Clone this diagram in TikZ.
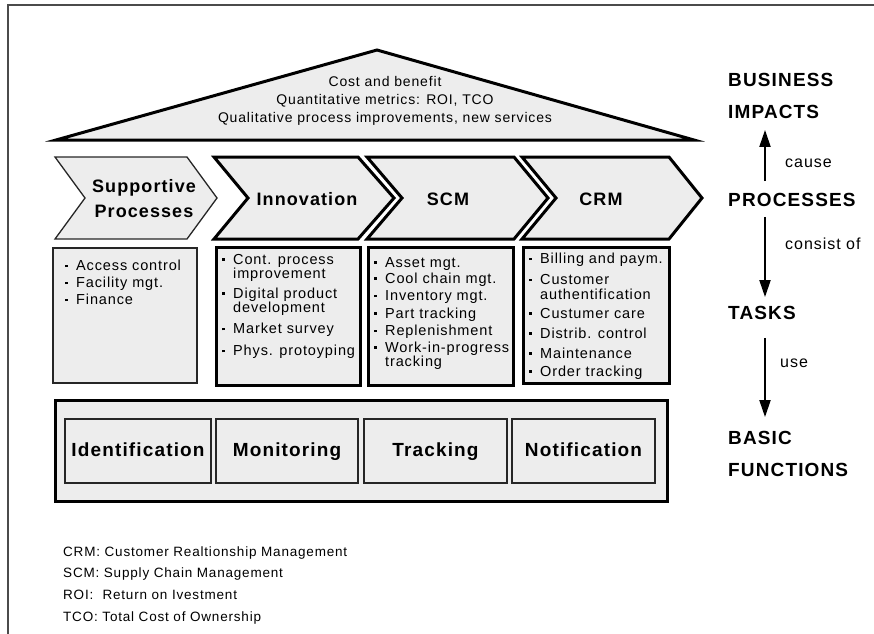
\documentclass[tikz,border=0pt]{standalone}
\usepackage{fontspec}
\setmainfont{Liberation Sans}[LetterSpace=6]
\usetikzlibrary{arrows.meta, positioning, calc}
\definecolor{shadegray}{RGB}{237,237,237}
\definecolor{framegray}{RGB}{75,75,75}
\newcommand{\blt}{\makebox[11pt][l]{\raisebox{3.5pt}{\rule{2.4pt}{2.4pt}}}}
\newcommand{\cnt}{\hspace*{11pt}}

\begin{document}
\begin{tikzpicture}[x=1pt, y=-1pt,
  thickbox/.style={draw=black, line width=3pt, fill=shadegray, inner sep=0pt, outer sep=0pt},
  thinbox/.style={draw=black!85, line width=1.3pt, fill=shadegray, inner sep=0pt, outer sep=0pt},
  chevlabel/.style={font=\fontsize{18}{25}\selectfont\bfseries, align=center, inner sep=0pt},
  funclabel/.style={font=\fontsize{19}{22}\selectfont\bfseries, inner sep=0pt, text height=14pt, text depth=4pt},
  levellabel/.style={font=\fontsize{19}{22}\selectfont\bfseries, anchor=west, inner sep=0pt},
  relabel/.style={font=\fontsize{16}{18}\selectfont, anchor=west, inner sep=0pt},
  itemtext/.style={font=\fontsize{14.5}{14.5}\selectfont, align=left, anchor=north west, inner sep=0pt},
  legendtext/.style={font=\fontsize{13.5}{15}\selectfont, anchor=west, inner sep=0pt},
  flowarrow/.style={-{Triangle[width=11pt,length=17pt]}, line width=2pt}
]
  \useasboundingbox (0,0) rectangle (874,633);
  % frame
  \draw[framegray, line width=2pt] (8,640) -- (8,5) -- (880,5);

  % roof
  \draw[thickbox, line join=miter] (56,140) -- (377,50) -- (694,140) -- cycle;
  \node[font=\fontsize{14}{18}\selectfont, align=center, inner sep=0pt] (roof) at (385,101) {
    Cost and benefit\\Quantitative metrics: ROI, TCO\\Qualitative process improvements, new services
  };

  % processes
  \draw[thinbox] (55,157) -- (187,157) -- (217,198) -- (187,239) -- (55,239) -- (85,198) -- cycle;
  \node[chevlabel] (supproc) at (144,199) {Supportive\\Processes};

  \draw[thickbox, line join=miter] (214,157) -- (358,157) -- (394,198) -- (358,239) -- (214,239) -- (248,198) -- cycle;
  \node[chevlabel] (innoproc) at (307,199) {Innovation};

  \draw[thickbox, line join=miter] (367,157) -- (514,157) -- (548,198) -- (514,239) -- (367,239) -- (402,198) -- cycle;
  \node[chevlabel] (scmproc) at (448,199) {SCM};

  \draw[thickbox, line join=miter] (522,157) -- (669,157) -- (702,198) -- (669,239) -- (522,239) -- (556,198) -- cycle;
  \node[chevlabel] (crmproc) at (601,199) {CRM};

  % tasks
  \node[thinbox, minimum width=144pt, minimum height=135pt] (suptask) at (125,315.5) {};
  \node[itemtext] (supitems) at ([xshift=12pt, yshift=-12pt]suptask.north west) {
    \blt Access control\\[2.5pt]
    \blt Facility mgt.\\[2.5pt]
    \blt Finance
  };

  \node[thickbox, minimum width=144pt, minimum height=138pt] (innotask) at (288,316) {};
  \node[itemtext] (innoitems) at ([xshift=6pt, yshift=-7pt]innotask.north west) {
    \blt Cont. process\\
    \cnt improvement\\[5pt]
    \blt Digital product\\
    \cnt development\\[6.5pt]
    \blt Market survey\\[7.5pt]
    \blt Phys. protoyping
  };

  \node[thickbox, minimum width=145pt, minimum height=138pt] (scmtask) at (440.5,316) {};
  \node[itemtext] (scmitems) at ([xshift=6pt, yshift=-10pt]scmtask.north west) {
    \blt Asset mgt.\\[1.5pt]
    \blt Cool chain mgt.\\[3pt]
    \blt Inventory mgt.\\[3pt]
    \blt Part tracking\\[3pt]
    \blt Replenishment\\[2pt]
    \blt Work-in-progress\\
    \cnt tracking
  };

  \node[thickbox, minimum width=146pt, minimum height=136pt] (crmtask) at (596,315) {};
  \node[itemtext] (crmitems) at ([xshift=6pt, yshift=-6pt]crmtask.north west) {
    \blt Billing and paym.\\[6.5pt]
    \blt Customer\\
    \cnt authentification\\[4.5pt]
    \blt Custumer care\\[5.5pt]
    \blt Distrib. control\\[5.5pt]
    \blt Maintenance\\[3.5pt]
    \blt Order tracking
  };

  % basic functions
  \node[thickbox, minimum width=612pt, minimum height=101pt] (funcs) at (361,450.5) {};
  \node[thinbox, minimum width=146pt, minimum height=64pt, funclabel] (ident) at (138,451) {Identification};
  \node[thinbox, minimum width=142pt, minimum height=64pt, funclabel] (monit) at (287,451) {Monitoring};
  \node[thinbox, minimum width=143pt, minimum height=64pt, funclabel] (track) at (435.5,451) {Tracking};
  \node[thinbox, minimum width=143pt, minimum height=64pt, funclabel] (notif) at (583.5,451) {Notification};

  % levels
  \node[levellabel] (business) at (728,80) {BUSINESS};
  \node[levellabel] (impacts) at (728,112) {IMPACTS};
  \node[levellabel] (procs) at (728,200) {PROCESSES};
  \node[levellabel] (tasks) at (728,313) {TASKS};
  \node[levellabel] (basic) at (728,438) {BASIC};
  \node[levellabel] (functions) at (728,470) {FUNCTIONS};

  \coordinate (ax) at (765,0);
  \draw[flowarrow, shorten <=12pt, shorten >=11pt] (procs.north -| ax) -- (impacts.south -| ax);
  \draw[flowarrow, shorten <=10pt, shorten >=9pt] (procs.south -| ax) -- (tasks.north -| ax);
  \draw[flowarrow, shorten <=18pt, shorten >=14pt] (tasks.south -| ax) -- (basic.north -| ax);

  \node[relabel] (cause) at (785,163) {cause};
  \node[relabel] (consist) at (785,244) {consist of};
  \node[relabel] (use) at (780,363) {use};

  % legend
  \node[legendtext] (legcrm) at (63,553) {CRM: Customer Realtionship Management};
  \node[legendtext] (legscm) at (63,574) {SCM: Supply Chain Management};
  \node[legendtext] (legroi) at (63,595) {ROI: \ Return on Ivestment};
  \node[legendtext] (legtco) at (63,618) {TCO: Total Cost of Ownership};
\end{tikzpicture}
\end{document}
